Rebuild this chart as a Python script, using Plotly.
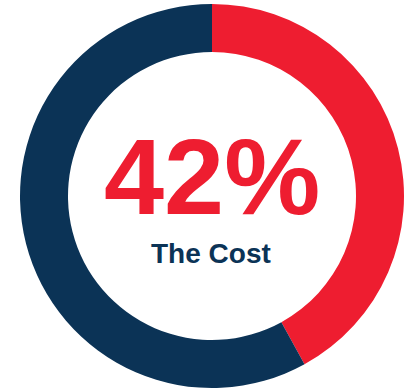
import plotly.graph_objects as go

# Share of the total: cost versus remainder
labels = ["The Cost", "Other"]
values = [42, 58]
colors = ["#EE1D30", "#0B3356"]
headline = "42%"
caption = "The Cost"

W, H = 407, 388

fig = go.Figure(
    go.Pie(
        labels=labels,
        values=values,
        hole=0.75,
        sort=False,
        direction="clockwise",
        rotation=0,
        marker=dict(colors=colors, line=dict(width=0)),
        textinfo="none",
        hoverinfo="label+percent",
        showlegend=False,
        domain=dict(x=[20 / W, 404 / W], y=[0, 384 / H]),
    )
)

fig.add_annotation(
    text=f"<b>{headline}</b>", x=212 / W, y=(H - 176) / H,
    xref="paper", yref="paper", showarrow=False,
    xanchor="center", yanchor="middle",
    font=dict(family="Liberation Sans, Arial, sans-serif", size=108, color=colors[0]),
)
fig.add_annotation(
    text=f"<b>{caption}</b>", x=211 / W, y=(H - 253) / H,
    xref="paper", yref="paper", showarrow=False,
    xanchor="center", yanchor="middle",
    font=dict(family="Liberation Sans, Arial, sans-serif", size=28, color=colors[1]),
)

fig.update_layout(
    width=W, height=H,
    margin=dict(l=0, r=0, t=0, b=0),
    paper_bgcolor="white", plot_bgcolor="white",
)

fig.write_html("out.html", config={"displayModeBar": False})
